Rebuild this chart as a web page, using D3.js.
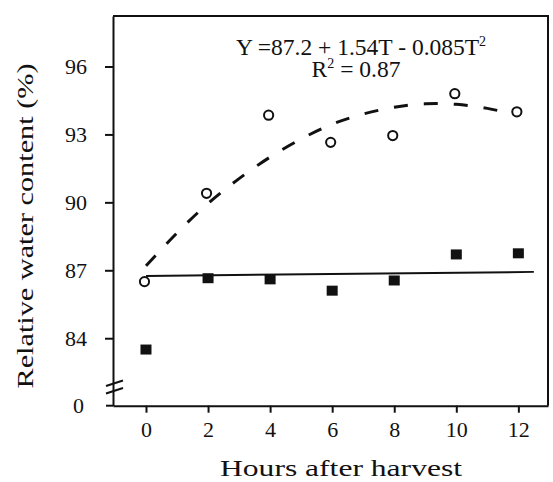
<!DOCTYPE html>
<html lang="en">
<head>
    <meta charset="UTF-8">
    <title>Relative water content</title>
    <script src="https://d3js.org/d3.v7.min.js"></script>
    <style type="text/css">
        body { margin: 0; background: #fff; }
        text { font-family: "Liberation Serif", "Times New Roman", serif; fill: #111; }
    </style>
</head>
<body>
<script type="text/javascript">

//Data
var hours = [0, 2, 4, 6, 8, 10, 12];
var openCircles = [86.5, 90.4, 93.85, 92.65, 92.95, 94.8, 94.0];
var filledSquares = [83.5, 86.65, 86.6, 86.1, 86.55, 87.7, 87.75];

//Fitted curves as drawn
var curveHours = [0, 1, 2, 3, 4, 5, 6, 7, 8, 9, 10, 11, 12];
var curveValues = [87.2, 88.65, 89.95, 91.05, 92.0, 92.8, 93.45, 93.9, 94.2, 94.35, 94.33, 94.15, 93.85];
var flatHours = [0, 12.5];
var flatValues = [86.75, 86.93];

var xTicks = [0, 2, 4, 6, 8, 10, 12];
var yTicks = [84, 87, 90, 93, 96];

//Width and height
var w = 553;
var h = 482;
var pLeft = 113, pRight = 548, pTop = 16, pBottom = 405.7;

var xScale = d3.scaleLinear()
    .domain([-1.063, 12.955])
    .range([pLeft, pRight]);

var yScale = d3.scaleLinear()
    .domain([81.02, 98.23])
    .range([pBottom, pTop]);

var svg = d3.select("body")
    .append("svg")
    .attr("width", w)
    .attr("height", h);

//Axes
var xAxis = d3.axisBottom(xScale)
    .tickValues(xTicks)
    .tickSize(7)
    .tickSizeOuter(0)
    .tickPadding(9);

var yAxis = d3.axisLeft(yScale)
    .tickValues(yTicks)
    .tickSize(8)
    .tickSizeOuter(0)
    .tickPadding(18);

var gx = svg.append("g")
    .attr("transform", "translate(0," + pBottom + ")")
    .call(xAxis);

var gy = svg.append("g")
    .attr("transform", "translate(" + pLeft + ",0)")
    .call(yAxis);

[gx, gy].forEach(function(g) {
    g.selectAll("path, line").attr("stroke", "#111").attr("stroke-width", 2);
    g.selectAll("text")
        .attr("font-size", "22px")
        .attr("font-family", "Liberation Serif, serif")
        .attr("fill", "#111");
});
gy.selectAll(".tick text").attr("dy", "0.34em");

//x axis runs a little past the y axis, acting as the "0" tick
svg.append("line")
    .attr("x1", pLeft - 7).attr("x2", pLeft)
    .attr("y1", pBottom).attr("y2", pBottom)
    .attr("stroke", "#111").attr("stroke-width", 2);

svg.append("text")
    .attr("x", pLeft - 8 - 18 - 3)
    .attr("y", pBottom)
    .attr("dy", "0.34em")
    .attr("text-anchor", "end")
    .attr("font-size", "22px")
    .text("0");

//Axis break marks
[0, 7.5].forEach(function(off) {
    svg.append("line")
        .attr("x1", pLeft - 7).attr("y1", 386 + off)
        .attr("x2", pLeft + 10).attr("y2", 380.5 + off)
        .attr("stroke", "#111").attr("stroke-width", 2);
});

//Top and right frame
svg.append("path")
    .attr("d", "M" + pLeft + "," + pTop + "H" + pRight + "V" + pBottom)
    .attr("fill", "none")
    .attr("stroke", "#111")
    .attr("stroke-width", 2);

//Dashed quadratic fit
var fitLine = d3.line()
    .x(function(d) { return xScale(d[0]); })
    .y(function(d) { return yScale(d[1]); })
    .curve(d3.curveNatural);

svg.append("path")
    .datum(d3.zip(curveHours, curveValues))
    .attr("d", fitLine)
    .attr("fill", "none")
    .attr("stroke", "#111")
    .attr("stroke-width", 3)
    .attr("stroke-dasharray", "14,16");

//Solid flat line
svg.append("path")
    .datum(d3.zip(flatHours, flatValues))
    .attr("d", d3.line()
        .x(function(d) { return xScale(d[0]); })
        .y(function(d) { return yScale(d[1]); }))
    .attr("fill", "none")
    .attr("stroke", "#111")
    .attr("stroke-width", 2);

//Filled squares
svg.selectAll("rect.sq")
    .data(d3.zip(hours, filledSquares))
    .enter()
    .append("rect")
    .attr("class", "sq")
    .attr("x", function(d) { return xScale(d[0]) - 5.5; })
    .attr("y", function(d) { return yScale(d[1]) - 5; })
    .attr("width", 11)
    .attr("height", 10)
    .attr("fill", "#111");

//Open circles
svg.selectAll("circle")
    .data(d3.zip(hours, openCircles))
    .enter()
    .append("circle")
    .attr("cx", function(d) { return xScale(d[0]) - 1.5; })
    .attr("cy", function(d) { return yScale(d[1]); })
    .attr("r", 4.6)
    .attr("fill", "#fff")
    .attr("stroke", "#111")
    .attr("stroke-width", 2);

//Equation
var eq = svg.append("text")
    .attr("x", 361)
    .attr("y", 55)
    .attr("text-anchor", "middle")
    .attr("font-size", "23.5px");
eq.append("tspan").text("Y =87.2 + 1.54T - 0.085T");
eq.append("tspan").attr("dy", -9).attr("font-size", "14px").text("2");

var r2 = svg.append("text")
    .attr("x", 356)
    .attr("y", 77)
    .attr("text-anchor", "middle")
    .attr("font-size", "23.5px");
r2.append("tspan").text("R");
r2.append("tspan").attr("dy", -9).attr("font-size", "14px").text("2");
r2.append("tspan").attr("dy", 9).text(" = 0.87");

//Axis titles
svg.append("text")
    .attr("transform", "translate(33,226) rotate(-90)")
    .attr("text-anchor", "middle")
    .attr("font-size", "24px")
    .attr("textLength", 325)
    .attr("lengthAdjust", "spacingAndGlyphs")
    .text("Relative water content (%)");

svg.append("text")
    .attr("x", 341)
    .attr("y", 476)
    .attr("text-anchor", "middle")
    .attr("font-size", "23px")
    .attr("textLength", 242)
    .attr("lengthAdjust", "spacingAndGlyphs")
    .text("Hours after harvest");

</script>
</body>
</html>
